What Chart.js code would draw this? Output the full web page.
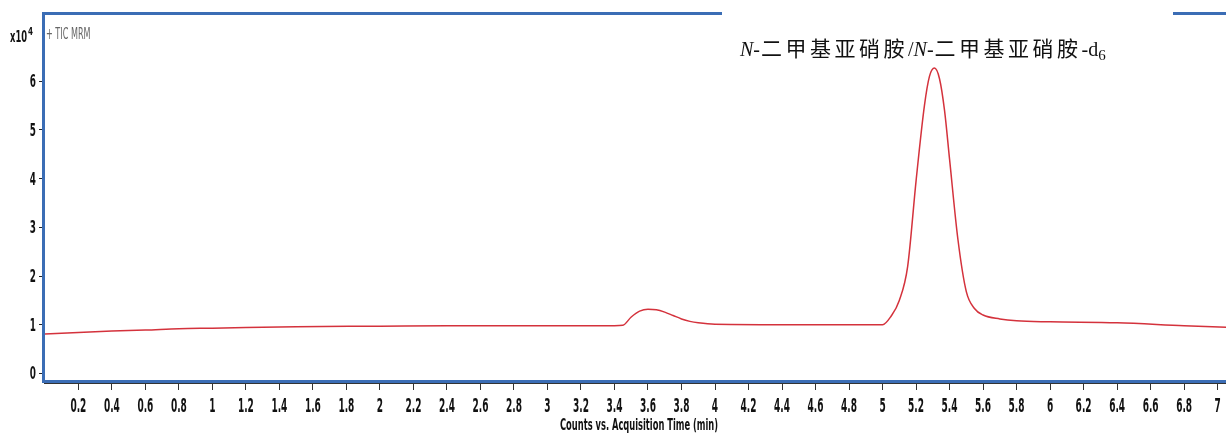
<!DOCTYPE html>
<html>
<head>
<meta charset="utf-8">
<script src="https://cdn.jsdelivr.net/npm/chart.js@4/dist/chart.umd.min.js"></script>
<style>
  body { margin: 0; background: #fff; }
  #wrap { width: 1226px; height: 437px; }
</style>
</head>
<body>
<div id="wrap"><canvas id="ticChart" width="1226" height="437"></canvas></div>
<script>
const times = [0, 0.2, 0.4, 0.6, 0.8, 1.0, 1.5, 2.0, 2.4, 3.0, 3.4, 3.45,
  3.5, 3.55, 3.6, 3.65, 3.7, 3.75, 3.8, 3.85, 3.9, 4.0, 4.5, 5.0,
  5.05, 5.1, 5.15, 5.2, 5.25, 5.28, 5.31, 5.34, 5.37, 5.4, 5.45, 5.5,
  5.55, 5.6, 5.7, 5.8, 6.0, 6.4, 6.8, 7.05]
const counts = [0.81, 0.84, 0.87, 0.89, 0.92, 0.93, 0.96, 0.97, 0.98, 0.98, 0.98, 0.99,
  1.16, 1.28, 1.32, 1.31, 1.26, 1.19, 1.12, 1.07, 1.04, 1.01, 1.0, 1.0,
  1.17, 1.5, 2.2, 3.95, 5.5, 6.1, 6.27, 6.05, 5.4, 4.4, 2.75, 1.68,
  1.33, 1.2, 1.12, 1.08, 1.06, 1.04, 0.98, 0.95]

const xTicks = [0.2, 0.4, 0.6, 0.8, 1, 1.2, 1.4, 1.6, 1.8, 2, 2.2, 2.4, 2.6, 2.8, 3,
  3.2, 3.4, 3.6, 3.8, 4, 4.2, 4.4, 4.6, 4.8, 5, 5.2, 5.4, 5.6, 5.8, 6,
  6.2, 6.4, 6.6, 6.8, 7]
const yTicks = [0, 1, 2, 3, 4, 5, 6]

const narrow = "'DejaVu Sans Condensed', 'DejaVu Sans', sans-serif"
const blue = '#3b6db5'

// texte écrasé horizontalement (police étroite du logiciel d'origine)
function narrowText(ctx, text, x, y, font, sx, align) {
    ctx.save()
    ctx.font = font
    ctx.textAlign = align || 'left'
    const w = ctx.measureText(text).width * sx
    ctx.translate(x, y)
    ctx.scale(sx, 1)
    ctx.fillText(text, 0, 0)
    ctx.restore()
    return w
}

// segments posés les uns après les autres
function runText(ctx, parts, x, y) {
    parts.forEach(p => {
        ctx.save()
        ctx.font = p.font
        ctx.letterSpacing = p.spacing || '0px'
        ctx.fillText(p.text, x, y + (p.dy || 0))
        x += ctx.measureText(p.text).width
        ctx.restore()
    })
}

/**
 * Cadre bleu, étiquettes des graduations, en-têtes et titre de l'axe des temps.
 */
const framePlugin = {
    id: 'frame',
    afterDraw(chart) {
        const ctx = chart.ctx
        const a = chart.chartArea
        const xs = chart.scales.x, ys = chart.scales.y
        ctx.save()
        // cadre
        ctx.fillStyle = blue
        ctx.fillRect(a.left - 2, 12, 3, a.bottom - 12 + 1)
        ctx.fillRect(a.left - 2, 12, a.right - a.left + 2, 3)
        ctx.fillRect(a.left - 2, a.bottom - 2, a.right - a.left + 2, 3)
        ctx.fillStyle = '#333'
        ctx.fillRect(a.left, a.bottom + 1, a.right - a.left, 1)

        // étiquettes des graduations
        ctx.fillStyle = '#111'
        ctx.textBaseline = 'alphabetic'
        xs.ticks.forEach(t => {
            narrowText(ctx, String(t.value), xs.getPixelForValue(t.value), 412,
                'bold 20px ' + narrow, 0.5, 'center')
        })
        ys.ticks.forEach(t => {
            narrowText(ctx, String(t.value), 36, ys.getPixelForValue(t.value) + 6,
                'bold 17px ' + narrow, 0.58, 'right')
        })

        // boîte blanche de l'annotation
        ctx.fillStyle = '#fff'
        ctx.fillRect(722, 10, 451, 54)

        // annotation
        ctx.fillStyle = '#111'
        const latin = "20px 'Liberation Serif', 'DejaVu Serif', serif"
        const latinIt = "italic 20px 'Liberation Serif', 'DejaVu Serif', serif"
        const cjk = "21px 'Noto Sans CJK SC', sans-serif"
        runText(ctx, [
            { text: 'N', font: latinIt },
            { text: '-', font: latin, spacing: '1px' },
            { text: '二甲基亚硝胺', font: cjk, spacing: '3.5px' },
            { text: '/', font: latin },
            { text: 'N', font: latinIt },
            { text: '-', font: latin, spacing: '1px' },
            { text: '二甲基亚硝胺', font: cjk, spacing: '3.5px' },
            { text: '-d', font: latin },
            { text: '6', font: "15px 'Liberation Serif', serif", dy: 4 }
        ], 740, 56)

        // en-tête gauche
        ctx.fillStyle = '#111'
        const w10 = narrowText(ctx, 'x10', 10, 42, 'bold 15px ' + narrow, 0.62)
        narrowText(ctx, '4', 11 + w10, 35, 'bold 10px ' + narrow, 0.8)
        ctx.fillStyle = '#666'
        narrowText(ctx, '+ TIC MRM', 46, 39, '15px ' + narrow, 0.6)

        // titre de l'axe x
        ctx.fillStyle = '#111'
        ctx.font = 'bold 16px ' + narrow
        const title = 'Counts vs. Acquisition Time (min)'
        const w = ctx.measureText(title).width
        narrowText(ctx, title, 639, 430, ctx.font, 158 / w, 'center')
        ctx.restore()
    }
}

new Chart(document.querySelector('#ticChart'), {
    type: 'line',
    data: {
        datasets: [{
            data: times.map((t, i) => ({ x: t, y: counts[i] })),
            borderColor: 'rgb(212, 50, 60)',
            borderWidth: 1.5,
            pointRadius: 0,
            cubicInterpolationMode: 'monotone',
            fill: false
        }]
    },
    options: {
        responsive: false,
        animation: false,
        layout: { padding: { top: 14, right: 0, left: 0, bottom: 0 } },
        plugins: {
            legend: { display: false },
            tooltip: { enabled: false }
        },
        scales: {
            x: {
                type: 'linear',
                min: -0.005,
                max: 7.05,
                afterFit: s => { s.height = 55 },
                afterBuildTicks: s => { s.ticks = xTicks.map(v => ({ value: v })) },
                grid: { drawOnChartArea: false, drawTicks: true, tickLength: 8, color: '#333' },
                border: { display: false },
                ticks: { display: false, autoSkip: false, maxRotation: 0 }
            },
            y: {
                min: -0.175,
                max: 7.38,
                afterFit: s => { s.width = 44 },
                afterBuildTicks: s => { s.ticks = yTicks.map(v => ({ value: v })) },
                grid: { drawOnChartArea: false, drawTicks: true, tickLength: 5, color: '#222' },
                border: { display: false },
                ticks: { display: false }
            }
        }
    },
    plugins: [framePlugin]
})
</script>
</body>
</html>
